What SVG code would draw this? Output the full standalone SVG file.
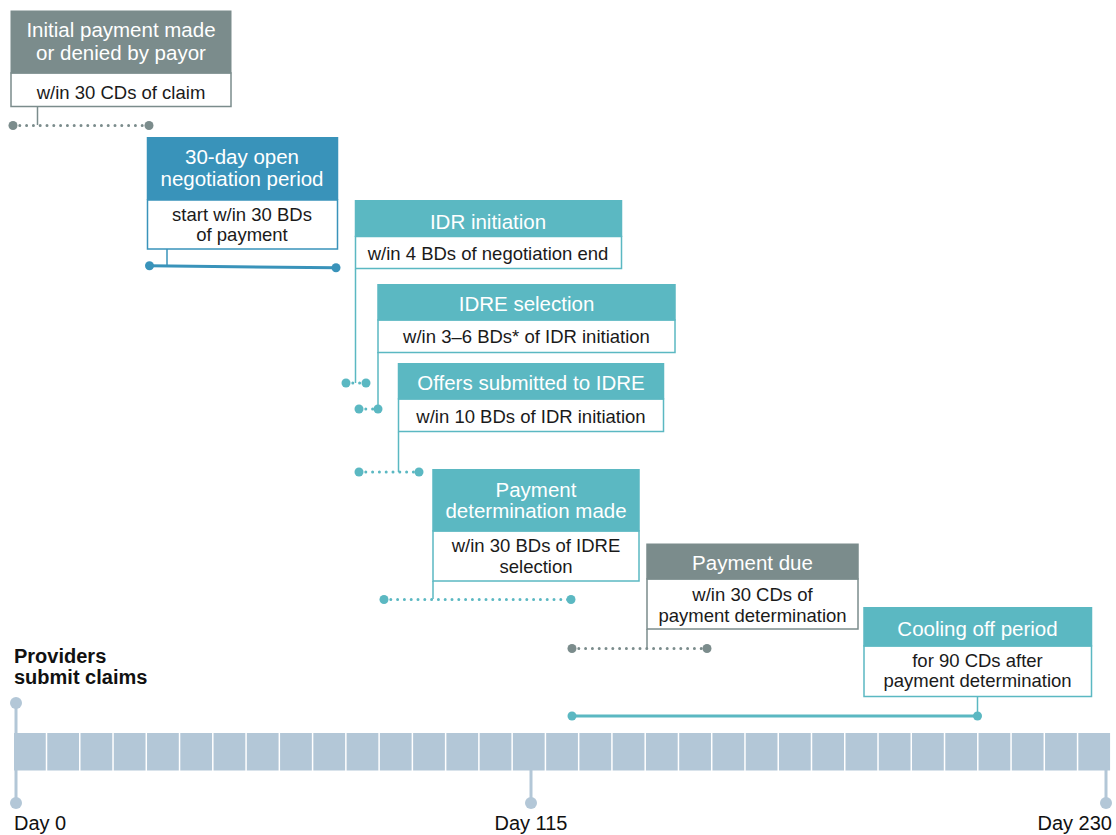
<svg xmlns="http://www.w3.org/2000/svg" width="1116" height="835" viewBox="0 0 1116 835">
<style>
text{font-family:"Liberation Sans",Arial,sans-serif}
.h{font-size:20.5px;fill:#fff;text-anchor:middle}
.b{font-size:18.5px;fill:#1a1a1a;text-anchor:middle}
.grey .hd{fill:#7b8c8c}.grey .bd{fill:#fff;stroke:#7b8c8c;stroke-width:1.5}
.blue .hd{fill:#3993ba}.blue .bd{fill:#fff;stroke:#3993ba;stroke-width:1.5}
.teal .hd{fill:#5bb8c2}.teal .bd{fill:#fff;stroke:#5bb8c2;stroke-width:1.5}
.v{stroke-width:1.5;fill:none}
.dot{stroke-width:3;stroke-linecap:round;stroke-dasharray:0 6.8;fill:none}
.sol{stroke-width:3;fill:none}
.cg{stroke:#7b8c8c}.cb{stroke:#3993ba}.ct{stroke:#5bb8c2}
.fg{fill:#7b8c8c}.fb{fill:#3993ba}.ft{fill:#5bb8c2}
.cell{fill:#b3c7d7}
.tick{stroke:#b3c7d7;stroke-width:3}
.tk{fill:#b3c7d7}
.day{font-size:20px;fill:#111}
.prov{font-size:20px;font-weight:bold;fill:#111}
</style>
<g id="connectors">
  <line class="v cg" x1="37.5" y1="107" x2="37.5" y2="125"/>
  <line class="dot cg" x1="13" y1="125.5" x2="149" y2="125.5"/>
  <circle class="fg" cx="13" cy="125.5" r="4.5"/><circle class="fg" cx="149" cy="125.5" r="4.5"/>

  <line class="v cb" x1="167" y1="249" x2="167" y2="266"/>
  <line class="sol cb" x1="149.5" y1="265.7" x2="336" y2="267.8"/>
  <circle class="fb" cx="149.5" cy="265.7" r="4.5"/><circle class="fb" cx="336" cy="267.8" r="4.5"/>

  <line class="v ct" x1="355.5" y1="269" x2="355.5" y2="383"/>
  <line class="dot ct" x1="346" y1="383" x2="366" y2="383"/>
  <circle class="ft" cx="346" cy="383" r="4.5"/><circle class="ft" cx="366" cy="383" r="4.5"/>

  <line class="v ct" x1="378" y1="352" x2="378" y2="409"/>
  <line class="dot ct" x1="359" y1="409" x2="378" y2="409"/>
  <circle class="ft" cx="359" cy="409" r="4.5"/><circle class="ft" cx="378" cy="409" r="4.5"/>

  <line class="v ct" x1="398.5" y1="432" x2="398.5" y2="472"/>
  <line class="dot ct" x1="359" y1="472" x2="419" y2="472"/>
  <circle class="ft" cx="359" cy="472" r="4.5"/><circle class="ft" cx="419" cy="472" r="4.5"/>

  <line class="v ct" x1="433" y1="581" x2="433" y2="599"/>
  <line class="dot ct" x1="384" y1="599.5" x2="571" y2="599.5"/>
  <circle class="ft" cx="384" cy="599.5" r="4.5"/><circle class="ft" cx="571" cy="599.5" r="4.5"/>

  <line class="v cg" x1="647" y1="629" x2="647" y2="648"/>
  <line class="dot cg" x1="572" y1="648.5" x2="707" y2="648.5"/>
  <circle class="fg" cx="572" cy="648.5" r="4.5"/><circle class="fg" cx="707" cy="648.5" r="4.5"/>

  <line class="v ct" x1="977.5" y1="697" x2="977.5" y2="716"/>
  <line class="sol ct" x1="572" y1="716" x2="977.5" y2="716"/>
  <circle class="ft" cx="572" cy="716" r="4.5"/><circle class="ft" cx="977.5" cy="716" r="4.5"/>
</g>

<g id="initial-payment" class="grey">
  <rect class="bd" x="11" y="73" width="220" height="33.5"/>
  <rect class="hd" x="10.5" y="10.5" width="221" height="63"/>
  <text class="h" x="121" y="37">Initial payment made</text>
  <text class="h" x="121" y="60">or denied by payor</text>
  <text class="b" x="121" y="98.5">w/in 30 CDs of claim</text>
</g>

<g id="open-negotiation" class="blue">
  <rect class="bd" x="147.5" y="200" width="190" height="49"/>
  <rect class="hd" x="146.75" y="137" width="191.5" height="63"/>
  <text class="h" x="242" y="164">30-day open</text>
  <text class="h" x="242" y="186">negotiation period</text>
  <text class="b" x="242" y="221">start w/in 30 BDs</text>
  <text class="b" x="242" y="241">of payment</text>
</g>

<g id="idr-initiation" class="teal">
  <rect class="bd" x="355.5" y="236.5" width="266" height="32"/>
  <rect class="hd" x="354.75" y="200" width="267.5" height="37"/>
  <text class="h" x="488" y="228.5">IDR initiation</text>
  <text class="b" x="488" y="259.5">w/in 4 BDs of negotiation end</text>
</g>

<g id="idre-selection" class="teal">
  <rect class="bd" x="378" y="320" width="297" height="32.5"/>
  <rect class="hd" x="377.25" y="284" width="298.5" height="36.5"/>
  <text class="h" x="526.5" y="311">IDRE selection</text>
  <text class="b" x="526.5" y="342.5">w/in 3–6 BDs* of IDR initiation</text>
</g>

<g id="offers-submitted" class="teal">
  <rect class="bd" x="398.5" y="399" width="265" height="32.5"/>
  <rect class="hd" x="397.75" y="363" width="266.5" height="36.5"/>
  <text class="h" x="531" y="390">Offers submitted to IDRE</text>
  <text class="b" x="531" y="422.5">w/in 10 BDs of IDR initiation</text>
</g>

<g id="payment-determination" class="teal">
  <rect class="bd" x="433" y="531" width="206" height="50"/>
  <rect class="hd" x="432.25" y="469" width="207.5" height="62.5"/>
  <text class="h" x="536" y="497">Payment</text>
  <text class="h" x="536" y="518">determination made</text>
  <text class="b" x="536" y="552">w/in 30 BDs of IDRE</text>
  <text class="b" x="536" y="573">selection</text>
</g>

<g id="payment-due" class="grey">
  <rect class="bd" x="647" y="579" width="211" height="50"/>
  <rect class="hd" x="646.25" y="543.5" width="212.5" height="36"/>
  <text class="h" x="752.5" y="570">Payment due</text>
  <text class="b" x="752.5" y="600.5">w/in 30 CDs of</text>
  <text class="b" x="752.5" y="621.5">payment determination</text>
</g>

<g id="cooling-off" class="teal">
  <rect class="bd" x="864" y="646" width="227.5" height="50.5"/>
  <rect class="hd" x="863.25" y="607" width="229" height="39.5"/>
  <text class="h" x="977.5" y="635.5">Cooling off period</text>
  <text class="b" x="977.5" y="666.5">for 90 CDs after</text>
  <text class="b" x="977.5" y="687">payment determination</text>
</g>

<g id="timeline">
  <text class="prov" x="14" y="663">Providers</text>
  <text class="prov" x="14" y="684">submit claims</text>
  <line class="tick" x1="16" y1="703" x2="16" y2="733"/>
  <circle class="tk" cx="16" cy="703" r="6"/>
  <rect class="cell" x="14" y="733" width="31.76" height="37.5"/>
  <rect class="cell" x="47.26" y="733" width="31.76" height="37.5"/>
  <rect class="cell" x="80.52" y="733" width="31.76" height="37.5"/>
  <rect class="cell" x="113.78" y="733" width="31.76" height="37.5"/>
  <rect class="cell" x="147.04" y="733" width="31.76" height="37.5"/>
  <rect class="cell" x="180.3" y="733" width="31.76" height="37.5"/>
  <rect class="cell" x="213.56" y="733" width="31.76" height="37.5"/>
  <rect class="cell" x="246.82" y="733" width="31.76" height="37.5"/>
  <rect class="cell" x="280.08" y="733" width="31.76" height="37.5"/>
  <rect class="cell" x="313.34" y="733" width="31.76" height="37.5"/>
  <rect class="cell" x="346.6" y="733" width="31.76" height="37.5"/>
  <rect class="cell" x="379.86" y="733" width="31.76" height="37.5"/>
  <rect class="cell" x="413.12" y="733" width="31.76" height="37.5"/>
  <rect class="cell" x="446.38" y="733" width="31.76" height="37.5"/>
  <rect class="cell" x="479.64" y="733" width="31.76" height="37.5"/>
  <rect class="cell" x="512.9" y="733" width="31.76" height="37.5"/>
  <rect class="cell" x="546.16" y="733" width="31.76" height="37.5"/>
  <rect class="cell" x="579.42" y="733" width="31.76" height="37.5"/>
  <rect class="cell" x="612.68" y="733" width="31.76" height="37.5"/>
  <rect class="cell" x="645.94" y="733" width="31.76" height="37.5"/>
  <rect class="cell" x="679.2" y="733" width="31.76" height="37.5"/>
  <rect class="cell" x="712.46" y="733" width="31.76" height="37.5"/>
  <rect class="cell" x="745.72" y="733" width="31.76" height="37.5"/>
  <rect class="cell" x="778.98" y="733" width="31.76" height="37.5"/>
  <rect class="cell" x="812.24" y="733" width="31.76" height="37.5"/>
  <rect class="cell" x="845.5" y="733" width="31.76" height="37.5"/>
  <rect class="cell" x="878.76" y="733" width="31.76" height="37.5"/>
  <rect class="cell" x="912.02" y="733" width="31.76" height="37.5"/>
  <rect class="cell" x="945.28" y="733" width="31.76" height="37.5"/>
  <rect class="cell" x="978.54" y="733" width="31.76" height="37.5"/>
  <rect class="cell" x="1011.8" y="733" width="31.76" height="37.5"/>
  <rect class="cell" x="1045.06" y="733" width="31.76" height="37.5"/>
  <rect class="cell" x="1078.32" y="733" width="31.76" height="37.5"/>
  <line class="tick" x1="16" y1="770" x2="16" y2="803"/>
  <circle class="tk" cx="16" cy="803" r="6"/>
  <line class="tick" x1="531" y1="770" x2="531" y2="803"/>
  <circle class="tk" cx="531" cy="803" r="6"/>
  <line class="tick" x1="1106" y1="770" x2="1106" y2="803"/>
  <circle class="tk" cx="1106" cy="803" r="6"/>
  <text class="day" x="14" y="830">Day 0</text>
  <text class="day" x="531" y="830" text-anchor="middle">Day 115</text>
  <text class="day" x="1112" y="830" text-anchor="end">Day 230</text>
</g>
</svg>
